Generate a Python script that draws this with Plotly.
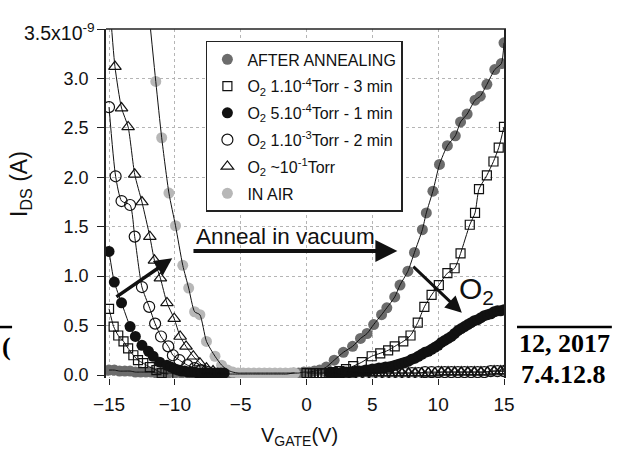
import plotly.graph_objects as go

# Gate voltage (V) and drain current (units of 1e-9 A) for each condition
after_anneal_v = [-15.0, -14.6, -14.2, -13.8, -13.4, -13.0, -12.6, -12.2, -11.8, -11.4, -11.0, -10.5,
                  -10.0, -9.5, -9.0, -8.5, -8.0, -7.5, -7.0, -6.5, -6.0, -5.5, -5.0, -4.5, -4.0,
                  -3.5, -3.0, -2.5, -2.0, -1.5, -1.0, -0.6, -0.2, 0.2, 0.6, 1.0, 1.5, 2.1, 2.8,
                  3.5, 4.1, 4.6, 5.1, 5.7, 6.1, 6.7, 7.1, 7.7, 8.2, 8.8, 9.1, 9.6, 10.1, 10.7,
                  11.3, 11.7, 12.2, 12.8, 13.2, 13.7, 14.3, 14.8, 15.0]
after_anneal_i = [0.05, 0.05, 0.04, 0.04, 0.04, 0.03, 0.03, 0.03, 0.03, 0.02, 0.02, 0.02,
                  0.02, 0.02, 0.02, 0.01, 0.01, 0.01, 0.01, 0.01, 0.01, 0.01, 0.01, 0.01, 0.01,
                  0.01, 0.01, 0.01, 0.01, 0.01, 0.02, 0.02, 0.03, 0.03, 0.04, 0.05, 0.08, 0.15, 0.23,
                  0.29, 0.37, 0.42, 0.51, 0.61, 0.68, 0.79, 0.91, 1.05, 1.24, 1.47, 1.64, 1.86, 2.13, 2.32,
                  2.42, 2.56, 2.64, 2.78, 2.82, 2.94, 3.09, 3.15, 3.36]

o2_1e4_v = [-15.0, -14.65, -14.3, -13.9, -13.55, -13.15, -12.8, -12.4, -11.9, -11.4, -11.0, -10.5, None,
            0.0, 0.25, 0.5, 0.75, 1.0, 1.25, 1.5, 1.75, 2.0, 2.5, 3.0, 3.55, 4.2, 4.95, 5.6, 6.2, 6.7,
            7.35, 7.9, 8.45, 8.95, 9.5, 10.05, 10.7, 11.25, 11.7, 12.4, 12.8, 13.1, 13.7, 14.2, 14.6, 15.0]
o2_1e4_i = [0.67, 0.49, 0.40, 0.34, 0.27, 0.20, 0.15, 0.12, 0.08, 0.05, 0.02, 0.01, None,
            0.02, 0.02, 0.02, 0.02, 0.02, 0.02, 0.02, 0.02, 0.03, 0.04, 0.06, 0.09, 0.13, 0.19, 0.22, 0.25, 0.29,
            0.34, 0.40, 0.53, 0.69, 0.81, 0.91, 1.03, 1.08, 1.23, 1.52, 1.64, 1.88, 2.02, 2.16, 2.30, 2.51]

o2_5e4_v = [-15.0, -14.6, -14.05, -13.4, -13.0, -12.5, -12.0, -11.65, -11.15, -10.6, -10.3, -10.0,
            -9.75, -9.5, -9.25, -9.0, -8.75, -8.5, -8.25, -8.0, -7.75, -7.5, -7.25, -7.0, -6.75, -6.5,
            -6.25, None,
            1.75, 2.0, 2.25, 2.5, 2.75, 3.0, 3.25, 3.5, 3.75, 4.0, 4.25, 4.5, 4.75, 5.0, 5.25, 5.5,
            5.75, 6.0, 6.25, 6.5, 6.75, 7.0, 7.25, 7.5, 7.75, 8.0, 8.25, 8.5, 8.75, 9.0, 9.25, 9.5,
            9.75, 10.0, 10.25, 10.5, 10.75, 11.0, 11.25, 11.5, 11.75, 12.0, 12.25, 12.5, 12.75, 13.0,
            13.25, 13.5, 13.75, 14.0, 14.25, 14.5, 14.75, 15.0]
o2_5e4_i = [1.25, 0.94, 0.73, 0.49, 0.39, 0.30, 0.24, 0.19, 0.13, 0.10, 0.08, 0.06,
            0.05, 0.04, 0.04, 0.03, 0.03, 0.03, 0.02, 0.02, 0.02, 0.02, 0.02, 0.02, 0.02, 0.02,
            0.02, None,
            0.02, 0.02, 0.02, 0.02, 0.03, 0.03, 0.03, 0.03, 0.04, 0.04, 0.04, 0.05, 0.05, 0.06, 0.06, 0.07,
            0.07, 0.08, 0.08, 0.09, 0.10, 0.11, 0.12, 0.13, 0.14, 0.16, 0.17, 0.19, 0.21, 0.23, 0.24, 0.26,
            0.28, 0.30, 0.33, 0.35, 0.37, 0.39, 0.42, 0.45, 0.47, 0.49, 0.51, 0.53, 0.55, 0.56,
            0.58, 0.60, 0.61, 0.62, 0.64, 0.65, 0.65, 0.66]

o2_1e3_v = [-15.0, -14.5, -14.05, -13.4, -13.05, -12.5, -11.95, -11.5, -11.05, -10.5, -10.15, -9.65,
            -9.05, -8.5, -8.0, -7.5, None,
            2.0, 2.5, 3.0, 3.5, 4.0, 4.5, 5.0, 5.5, 6.0, 6.5, 7.0, 7.5, 8.0, 8.5, 9.0, 9.5, 10.0,
            10.5, 11.0, 11.5, 12.0, 12.5, 13.0, 13.5, 14.0, 14.5, 15.0]
o2_1e3_i = [2.71, 2.01, 1.76, 1.72, 1.40, 0.89, 0.69, 0.52, 0.39, 0.29, 0.20, 0.15,
            0.10, 0.07, 0.05, 0.03, None,
            0.01, 0.01, 0.02, 0.02, 0.02, 0.02, 0.02, 0.02, 0.02, 0.02, 0.02, 0.02, 0.02, 0.02, 0.03, 0.03, 0.03,
            0.03, 0.03, 0.03, 0.03, 0.03, 0.03, 0.03, 0.04, 0.04, 0.04]

o2_1e1_v = [-15.0, -14.55, -14.05, -13.55, -13.05, -12.5, -11.9, -11.55, -11.1, -10.6, -10.05, -9.6,
            -9.15, -8.6, -8.1, -7.6, -7.1, None,
            2.25, 2.75, 3.25, 3.75, 4.25, 4.75, 5.25, 5.75, 6.25, 6.75, 7.25, 7.75, 8.25, 8.75, 9.25,
            9.75, 10.25, 10.75, 11.25, 11.75, 12.25, 12.75, 13.25, 13.75, 14.25, 14.75, 15.0]
o2_1e1_i = [3.85, 3.12, 2.70, 2.51, 2.03, 1.75, 1.40, 1.16, 0.98, 0.73, 0.57, 0.39,
            0.29, 0.19, 0.12, 0.07, 0.04, None,
            0.01, 0.01, 0.01, 0.02, 0.02, 0.02, 0.02, 0.02, 0.02, 0.02, 0.02, 0.02, 0.02, 0.02, 0.02,
            0.02, 0.03, 0.03, 0.03, 0.03, 0.03, 0.03, 0.03, 0.03, 0.04, 0.04, 0.04]

in_air_v = [-12.3, -11.45, -11.0, -10.45, -9.95, -9.4, -8.95, -8.5, -8.1, -7.6, -6.95, -6.45,
            -6.0, -5.6, -5.2, -4.8, -4.4, -4.0, -3.6, -3.2, -2.8, -2.4, -2.0, -1.6, -1.2, -0.9]
in_air_i = [4.10, 2.97, 2.40, 1.84, 1.51, 1.11, 0.88, 0.64, 0.61, 0.34, 0.19, 0.10,
            0.05, 0.03, 0.02, 0.02, 0.02, 0.02, 0.02, 0.02, 0.02, 0.02, 0.02, 0.02, 0.02, 0.02]

x_ticks = [-15, -10, -5, 0, 5, 10, 15]
y_ticks = [0.0, 0.5, 1.0, 1.5, 2.0, 2.5, 3.0, 3.5]
y_ticktext = ["0.0", "0.5", "1.0", "1.5", "2.0", "2.5", "3.0", "3.5x10<sup>-9</sup>"]

FONT = "Liberation Sans, Arial, sans-serif"
INK = "#111111"

# (name, x, y, marker style, legend position); drawing order is bottom to top
series = [
    ("AFTER ANNEALING", after_anneal_v, after_anneal_i,
     dict(symbol="circle", size=11, color="#6c6c6c"), 1),
    ("IN AIR", in_air_v, in_air_i,
     dict(symbol="circle", size=11, color="#b7b7b7"), 6),
    ("O<sub>2</sub> 1.10<sup>-3</sup>Torr - 2 min", o2_1e3_v, o2_1e3_i,
     dict(symbol="circle-open", size=11, color=INK, line=dict(width=1.2)), 4),
    ("O<sub>2</sub> ~10<sup>-1</sup>Torr", o2_1e1_v, o2_1e1_i,
     dict(symbol="triangle-up-open", size=11, color=INK, line=dict(width=1.2)), 5),
    ("O<sub>2</sub> 5.10<sup>-4</sup>Torr - 1 min", o2_5e4_v, o2_5e4_i,
     dict(symbol="circle", size=11, color=INK), 3),
    ("O<sub>2</sub> 1.10<sup>-4</sup>Torr - 3 min", o2_1e4_v, o2_1e4_i,
     dict(symbol="square-open", size=9, color=INK, line=dict(width=1.2)), 2),
]

fig = go.Figure()

for name, xv, yv, mk, rank in series:
    fig.add_trace(go.Scatter(
        x=xv, y=yv, mode="markers", name=name, marker=mk,
        legendrank=rank, legendgroup=name,
    ))

# thin black curves through each data set, drawn over the markers
for name, xv, yv, mk, rank in series:
    fig.add_trace(go.Scatter(
        x=xv, y=yv, mode="lines", showlegend=False, hoverinfo="skip",
        line=dict(color=INK, width=1, shape="spline", smoothing=0.6),
    ))

arrow = dict(xref="x", yref="y", axref="x", ayref="y", text="", showarrow=True,
             arrowhead=2, arrowcolor=INK)
fig.add_annotation(arrow, x=6.9, y=1.255, ax=-8.7, ay=1.255, arrowwidth=4, arrowsize=1.1)
fig.add_annotation(arrow, x=-10.2, y=1.18, ax=-14.55, ay=0.78, arrowwidth=3.5, arrowsize=1.0)
fig.add_annotation(arrow, x=11.8, y=0.63, ax=8.0, ay=1.11, arrowwidth=3, arrowsize=1.1)

fig.add_annotation(x=-1.6, y=1.40, xref="x", yref="y", text="Anneal in vacuum",
                   showarrow=False, font=dict(family=FONT, size=22.5, color=INK))
fig.add_annotation(x=12.9, y=0.86, xref="x", yref="y", text="O<sub>2</sub>",
                   showarrow=False, font=dict(family=FONT, size=30, color=INK))

# top tick label carries the exponent
fig.add_annotation(x=-0.022, y=y_ticks[-1], xref="paper", yref="y", xanchor="right",
                   yanchor="middle", yshift=-3, text=y_ticktext[-1], showarrow=False,
                   font=dict(family=FONT, size=19.5, color=INK))
tick_labels_drawn = y_ticktext[:-1] + [""]

# axis titles
fig.add_annotation(x=-0.2136, y=0.556, xref="paper", yref="paper", xanchor="center",
                   yanchor="middle", text="I<sub>DS</sub> (A)", textangle=-90, showarrow=False,
                   font=dict(family=FONT, size=23, color=INK))
fig.add_annotation(x=0.487, y=-0.168, xref="paper", yref="paper", xanchor="center",
                   yanchor="middle", text="V<sub>GATE</sub>(V)", showarrow=False,
                   font=dict(family=FONT, size=20, color=INK))

# page text printed alongside the figure
SERIF = "Liberation Serif, Times New Roman, serif"
fig.add_annotation(x=-0.249, y=0.089, xref="paper", yref="paper", xanchor="center",
                   yanchor="middle", text="<b>(</b>", showarrow=False,
                   font=dict(family=SERIF, size=26, color="#000000"))
fig.add_annotation(x=1.0327, y=0.10, xref="paper", yref="paper", xanchor="left",
                   yanchor="middle", text="<b>12, 2017</b>", showarrow=False,
                   font=dict(family=SERIF, size=26, color="#000000"))
fig.add_annotation(x=1.038, y=0.009, xref="paper", yref="paper", xanchor="left",
                   yanchor="middle", text="<b>7.4.12.8</b>", showarrow=False,
                   font=dict(family=SERIF, size=26, color="#000000"))
fig.add_shape(type="line", xref="paper", yref="paper", x0=1.0327, x1=1.271, y0=0.146, y1=0.146,
              line=dict(color="#000000", width=2.5))
fig.add_shape(type="line", xref="paper", yref="paper", x0=-0.27, x1=-0.236, y0=0.146, y1=0.146,
              line=dict(color="#000000", width=2.5))

# top frame line
fig.add_shape(type="line", xref="paper", yref="paper", x0=0, x1=1.005, y0=1, y1=1,
              line=dict(color="#222222", width=1.5))

fig.update_layout(
    width=624, height=450,
    margin=dict(l=106, r=120, t=29, b=72),
    paper_bgcolor="white", plot_bgcolor="white",
    font=dict(family=FONT, color=INK),
    showlegend=True,
    legend=dict(
        x=0.251, y=0.966, xanchor="left", yanchor="top",
        bgcolor="white", bordercolor="#222222", borderwidth=1.5,
        font=dict(family=FONT, size=16, color=INK),
        traceorder="grouped", tracegroupgap=3,
        itemwidth=30,
    ),
    xaxis=dict(
        range=[-15.23, 15.0], tickvals=x_ticks, ticks="outside", ticklen=6,
        tickcolor="#222222", showline=False, zeroline=False,
        showgrid=True, gridcolor="#b5b5b5", griddash="dot", gridwidth=1,
        ticklabelstandoff=3,
        tickfont=dict(family=FONT, size=19, color=INK),
    ),
    yaxis=dict(
        range=[-0.03, 3.5], tickvals=y_ticks, ticktext=tick_labels_drawn, ticks="outside", ticklen=7,
        tickcolor="#222222", showline=True, linecolor="#222222", linewidth=1.5, mirror=True,
        zeroline=False, showgrid=True, gridcolor="#b5b5b5", griddash="dot", gridwidth=1,
        ticklabelstandoff=5,
        tickfont=dict(family=FONT, size=18, color=INK),
    ),
)

fig.write_html("out.html")
